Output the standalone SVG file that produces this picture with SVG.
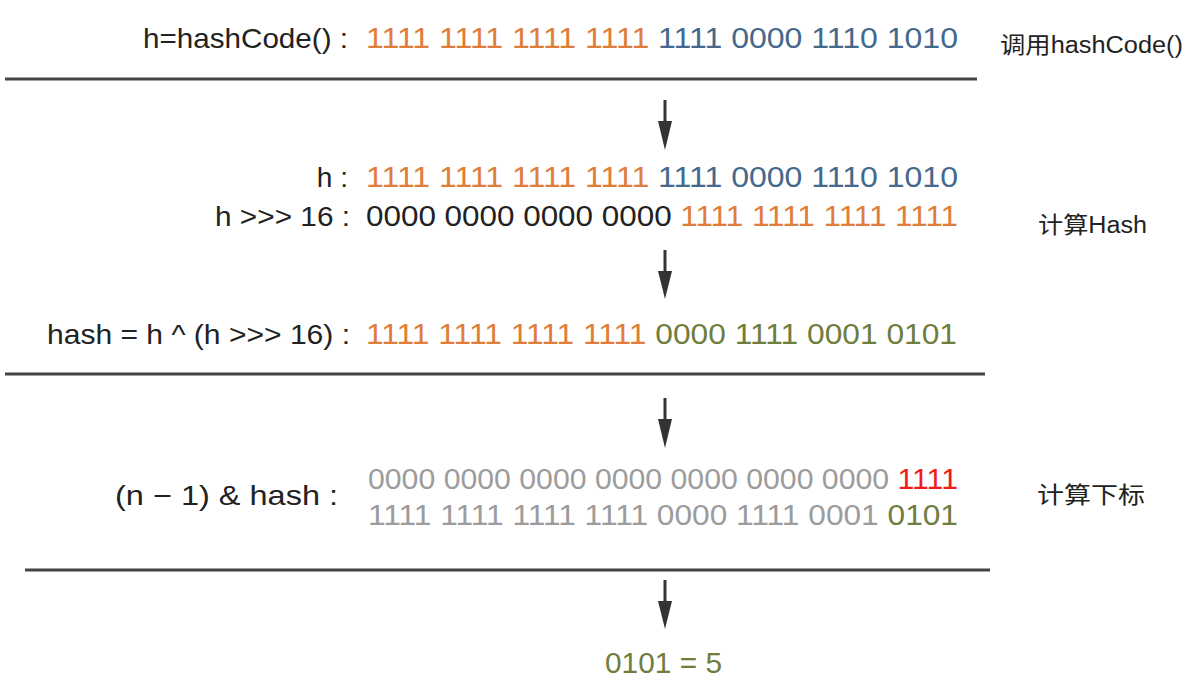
<svg xmlns="http://www.w3.org/2000/svg" width="1198" height="684" viewBox="0 0 1198 684">
<defs>
<style>
text{font-family:"Liberation Sans",Arial,sans-serif;}
.lbl{font-size:28px;fill:#222;text-anchor:end;}
.bin{font-size:29px;}
.side{font-size:23px;fill:#222;font-family:"Liberation Sans","Noto Sans CJK SC",sans-serif;}
.o{fill:#DE7E3A;}
.b{fill:#44698C;}
.k{fill:#222;}
.g{fill:#6F7D3E;}
.r{fill:#F21B1B;}
.gr{fill:#9C9C9C;}
.rule{stroke:#444;stroke-width:3;}
.arr{stroke:#333;stroke-width:3;fill:none;}
.head{fill:#333;}
</style>
</defs>
<rect width="1198" height="684" fill="#fff"/>
<g id="row-hashcode">
<text class="lbl" x="348" y="48" textLength="205" lengthAdjust="spacingAndGlyphs">h=hashCode() :</text>
<text class="bin" x="366" y="48" textLength="592" lengthAdjust="spacingAndGlyphs"><tspan class="o">1111 1111 1111 1111 </tspan><tspan class="b">1111 0000 1110 1010</tspan></text>
<text class="side" x="1000" y="53" textLength="183" lengthAdjust="spacingAndGlyphs">调用hashCode()</text>
</g>
<g id="row-h">
<text class="lbl" x="348" y="187">h :</text>
<text class="bin" x="366" y="187" textLength="592" lengthAdjust="spacingAndGlyphs"><tspan class="o">1111 1111 1111 1111 </tspan><tspan class="b">1111 0000 1110 1010</tspan></text>
</g>
<g id="row-shift">
<text class="lbl" x="350" y="226" textLength="135" lengthAdjust="spacingAndGlyphs">h &gt;&gt;&gt; 16 :</text>
<text class="bin" x="366" y="226" textLength="592" lengthAdjust="spacingAndGlyphs"><tspan class="k">0000 0000 0000 0000 </tspan><tspan class="o">1111 1111 1111 1111</tspan></text>
<text class="side" x="1038" y="233" textLength="109" lengthAdjust="spacingAndGlyphs">计算Hash</text>
</g>
<g id="row-hash">
<text class="lbl" x="350" y="344" textLength="303" lengthAdjust="spacingAndGlyphs">hash = h ^ (h &gt;&gt;&gt; 16) :</text>
<text class="bin" x="366" y="344" textLength="591" lengthAdjust="spacingAndGlyphs"><tspan class="o">1111 1111 1111 1111 </tspan><tspan class="g">0000 1111 0001 0101</tspan></text>
</g>
<g id="row-index">
<text class="lbl" x="338" y="505" textLength="223" lengthAdjust="spacingAndGlyphs">(n  −  1) &amp; hash :</text>
<text class="bin" x="368" y="489" textLength="590" lengthAdjust="spacingAndGlyphs"><tspan class="gr">0000 0000 0000 0000 0000 0000 0000 </tspan><tspan class="r">1111</tspan></text>
<text class="bin" x="368" y="525" textLength="590" lengthAdjust="spacingAndGlyphs"><tspan class="gr">1111 1111 1111 1111 0000 1111 0001 </tspan><tspan class="g">0101</tspan></text>
<text class="side" x="1037" y="503" textLength="108" lengthAdjust="spacingAndGlyphs">计算下标</text>
</g>
<g id="result">
<text class="bin g" x="605" y="673" textLength="117" lengthAdjust="spacingAndGlyphs">0101 = 5</text>
</g>
<g id="connectors">
<line class="rule" x1="5" y1="79" x2="977" y2="79"/>
<line class="rule" x1="5" y1="374" x2="985" y2="374"/>
<line class="rule" x1="25" y1="570" x2="990" y2="570"/>
<line class="arr" x1="665" y1="100" x2="665" y2="124"/>
<polygon class="head" points="658,121 672,121 665,150"/>
<line class="arr" x1="665" y1="250" x2="665" y2="274"/>
<polygon class="head" points="658,271 672,271 665,299"/>
<line class="arr" x1="665" y1="398" x2="665" y2="422"/>
<polygon class="head" points="658,419 672,419 665,448"/>
<line class="arr" x1="665" y1="580" x2="665" y2="604"/>
<polygon class="head" points="658,601 672,601 665,629"/>
</g>
</svg>
